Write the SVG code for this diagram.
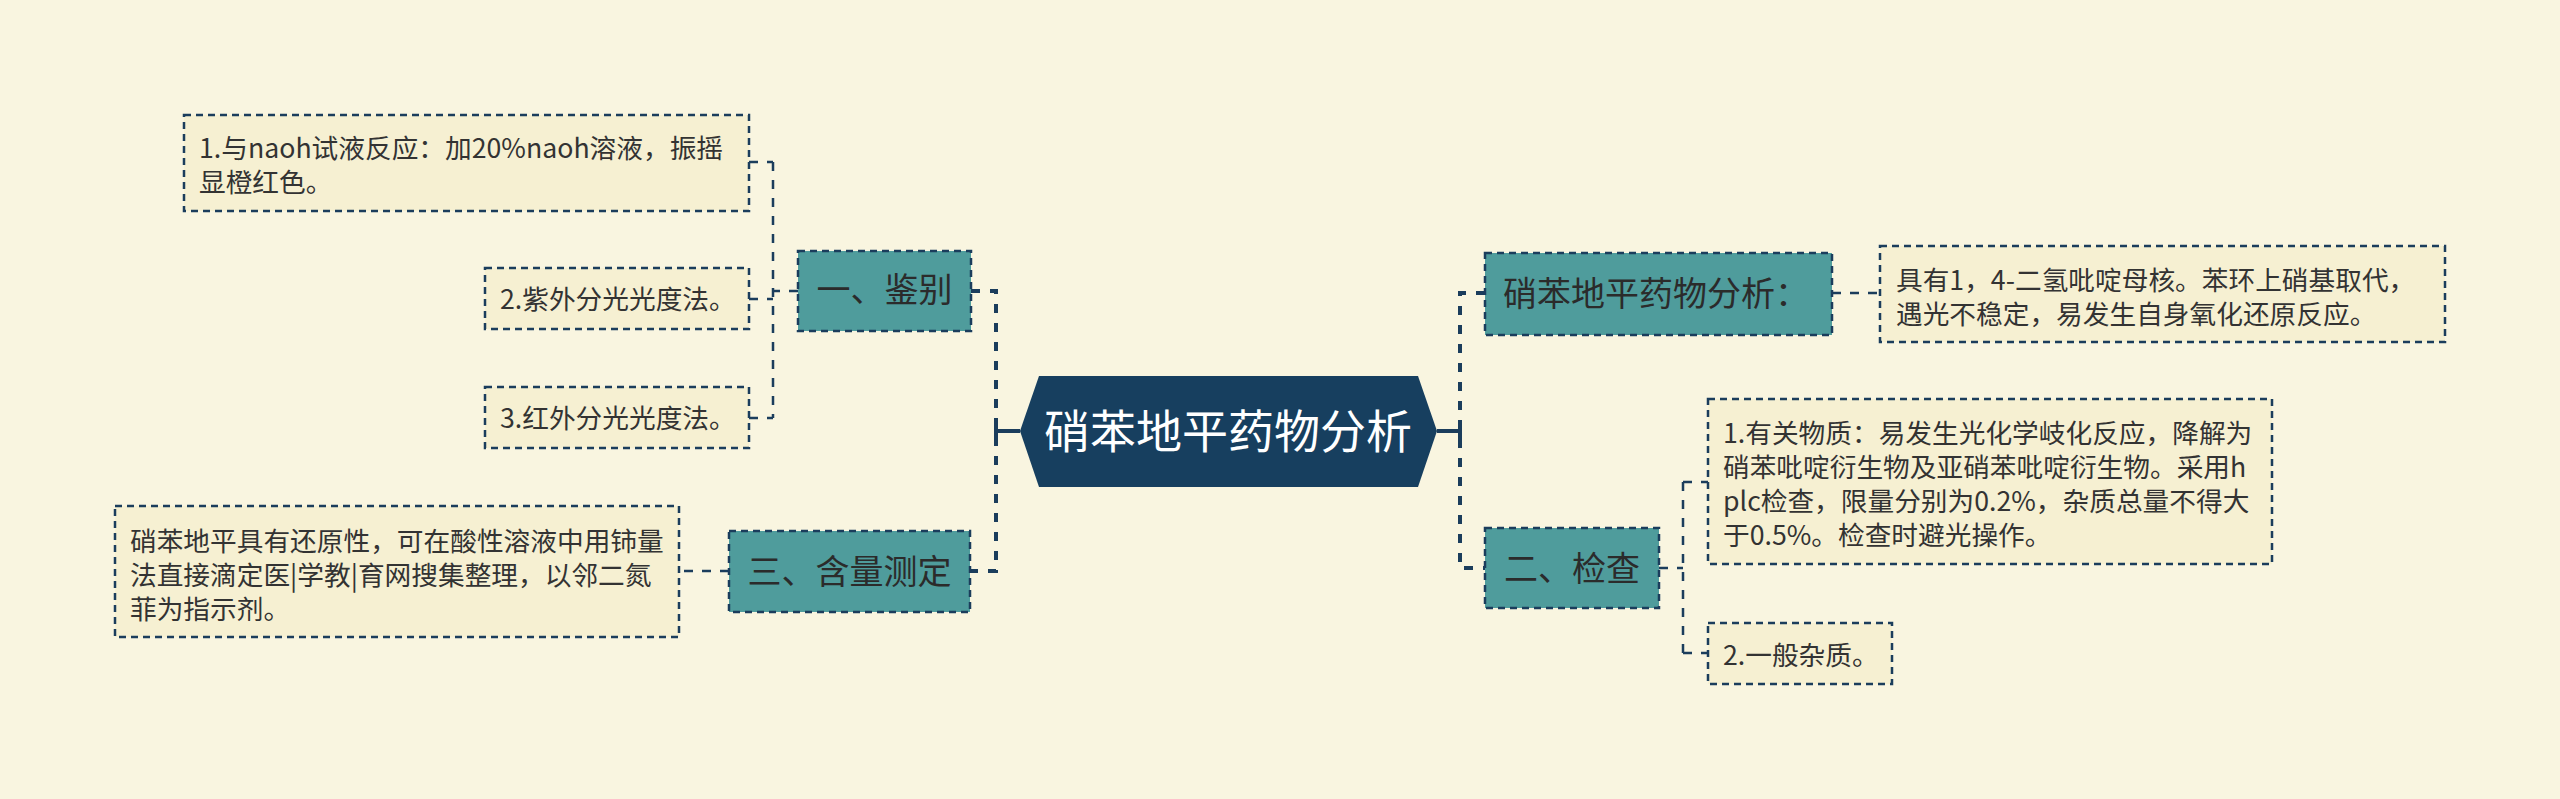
<svg xmlns="http://www.w3.org/2000/svg" width="2560" height="799" viewBox="0 0 2560 799">
<style>
.bg{fill:#F9F5E0}
.leaf rect{fill:#F6F0D2;stroke:#1B3D5C;stroke-width:2.5;stroke-dasharray:7 5}
.branch rect{fill:#4F9C9C;stroke:#1B3D5C;stroke-width:2.5;stroke-dasharray:7 5}
text{font-family:"Noto Sans CJK SC","Noto Sans",sans-serif}
.lt{font-size:26.7px;fill:#333333}
.bt{font-size:34px;fill:#2B2B2B}
.rt{font-size:46px;fill:#FFFFFF}
.c1{fill:none;stroke:#1B3D5C;stroke-width:4;stroke-dasharray:9 10}
.c2{fill:none;stroke:#1B3D5C;stroke-width:2.5;stroke-dasharray:9 9}
.cs{fill:none;stroke:#1B3D5C;stroke-width:4}
</style>
<rect class="bg" x="0" y="0" width="2560" height="799"/>

<g id="connectors">
  <!-- root to left branches -->
  <path class="cs" d="M1020,431 H996 M996,421 V441"/>
  <path class="c1" d="M971,291 H996 V571 H970"/>
  <!-- root to right branches -->
  <path class="cs" d="M1437,431 H1460 M1460,421 V441"/>
  <path class="c1" d="M1485,293 H1460 V568 H1485"/>
  <!-- 鉴别 children -->
  <path class="c2" d="M798,291 H773 M773,162 V418 M749,162 H773 M749,299 H773 M749,418 H773"/>
  <!-- 含量测定 child -->
  <path class="c2" d="M729,571 H679"/>
  <!-- 硝苯地平药物分析： child -->
  <path class="c2" d="M1832,293 H1880"/>
  <!-- 检查 children -->
  <path class="c2" d="M1659,568 H1683 M1683,482 V653 M1683,482 H1708 M1683,653 H1708"/>
</g>

<g id="root">
  <polygon points="1020,431 1039,376 1418,376 1437,431 1418,487 1039,487" fill="#173F5F"/>
  <text class="rt" x="1228" y="448" text-anchor="middle">硝苯地平药物分析</text>
</g>

<g id="branch-jianbie" class="branch">
  <rect x="798" y="251" width="173" height="80"/>
  <text class="bt" x="884.5" y="302" text-anchor="middle">一、鉴别</text>
</g>
<g id="branch-hanliang" class="branch">
  <rect x="729" y="531" width="241" height="81"/>
  <text class="bt" x="849.5" y="584" text-anchor="middle">三、含量测定</text>
</g>
<g id="branch-fenxi" class="branch">
  <rect x="1485" y="253" width="347" height="82"/>
  <text class="bt" x="1503" y="306">硝苯地平药物分析：</text>
</g>
<g id="branch-jiancha" class="branch">
  <rect x="1485" y="528" width="174" height="80"/>
  <text class="bt" x="1572" y="581" text-anchor="middle">二、检查</text>
</g>

<g id="leaf-naoh" class="leaf">
  <rect x="184" y="115" width="565" height="96"/>
  <text class="lt" x="199" y="158">1.与naoh试液反应：加20%naoh溶液，振摇</text>
  <text class="lt" x="199" y="192">显橙红色。</text>
</g>
<g id="leaf-uv" class="leaf">
  <rect x="485" y="268" width="264" height="61"/>
  <text class="lt" x="500" y="309">2.紫外分光光度法。</text>
</g>
<g id="leaf-ir" class="leaf">
  <rect x="485" y="387" width="264" height="61"/>
  <text class="lt" x="500" y="428">3.红外分光光度法。</text>
</g>
<g id="leaf-titration" class="leaf">
  <rect x="115" y="506" width="564" height="131"/>
  <text class="lt" x="130" y="551">硝苯地平具有还原性，可在酸性溶液中用铈量</text>
  <text class="lt" x="130" y="585">法直接滴定医|学教|育网搜集整理，以邻二氮</text>
  <text class="lt" x="130" y="619">菲为指示剂。</text>
</g>
<g id="leaf-structure" class="leaf">
  <rect x="1880" y="246" width="565" height="96"/>
  <text class="lt" x="1896" y="290">具有1，4-二氢吡啶母核。苯环上硝基取代，</text>
  <text class="lt" x="1896" y="324">遇光不稳定，易发生自身氧化还原反应。</text>
</g>
<g id="leaf-related" class="leaf">
  <rect x="1708" y="399" width="564" height="165"/>
  <text class="lt" x="1723" y="443">1.有关物质：易发生光化学岐化反应，降解为</text>
  <text class="lt" x="1723" y="477">硝苯吡啶衍生物及亚硝苯吡啶衍生物。采用h</text>
  <text class="lt" x="1723" y="511">plc检查，限量分别为0.2%，杂质总量不得大</text>
  <text class="lt" x="1723" y="545">于0.5%。检查时避光操作。</text>
</g>
<g id="leaf-general" class="leaf">
  <rect x="1708" y="623" width="184" height="61"/>
  <text class="lt" x="1723" y="665">2.一般杂质。</text>
</g>
</svg>
